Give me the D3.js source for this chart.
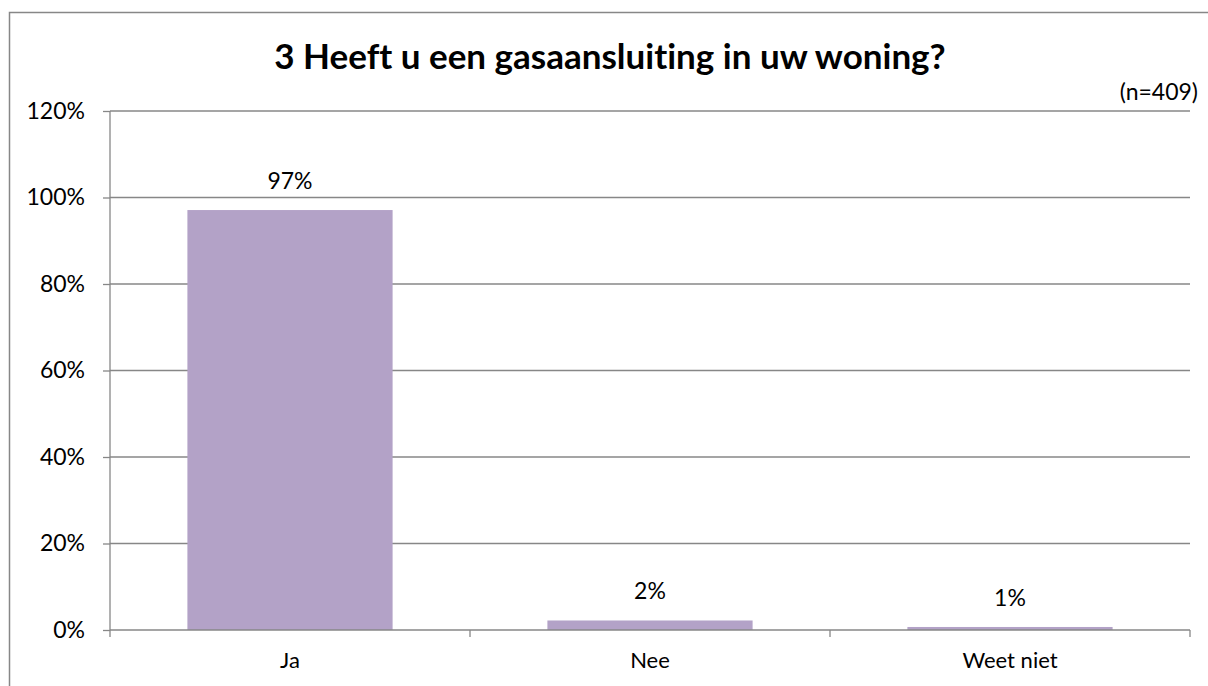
<!DOCTYPE html>
<html>
<head>
<meta charset="utf-8">
<script src="https://cdn.jsdelivr.net/npm/d3@7"></script>
<style>
    body { margin: 0; background: white; }
    svg { display: block; font-family: Lato, "Open Sans", sans-serif; font-variant-ligatures: none; }
</style>
</head>
<body>
<div id="chart"></div>
<script>
    // values
    var categories = ["Ja", "Nee", "Weet niet"];
    var values = [97.1, 2.2, 0.7];
    var yTicks = [0, 20, 40, 60, 80, 100, 120];

    var width = 1208, height = 686;
    var margin = { top: 111, right: 18, bottom: 56, left: 110 };

    var svg = d3.select("#chart").append("svg")
        .attr("width", width)
        .attr("height", height);

    // chart frame, only top and left edge fall inside the window
    svg.append("rect")
        .attr("x", 9.5).attr("y", 12.5)
        .attr("width", 1400).attr("height", 900)
        .attr("fill", "none")
        .attr("stroke", "#878787")
        .attr("stroke-width", 1.5);

    var x = d3.scaleBand()
        .domain(categories)
        .range([margin.left, width - margin.right])
        .paddingInner(0.43)
        .paddingOuter(0.215);

    var y = d3.scaleLinear()
        .domain([0, 120])
        .range([height - margin.bottom, margin.top]);

    // gridlines
    svg.append("g").selectAll("line").data(yTicks.slice(1)).enter().append("line")
        .attr("x1", margin.left).attr("x2", width - margin.right)
        .attr("y1", function (d) { return y(d); })
        .attr("y2", function (d) { return y(d); })
        .attr("stroke", "#878787")
        .attr("stroke-width", 1.3);

    // y axis
    var yAxis = svg.append("g")
        .attr("transform", "translate(" + margin.left + ",0)")
        .call(d3.axisLeft(y).tickValues(yTicks).tickSize(7).tickPadding(18)
            .tickFormat(function (d) { return d + "%"; }));
    yAxis.selectAll("path, line").attr("stroke", "#878787").attr("stroke-width", 1.3);
    yAxis.select(".domain").attr("d", "M0," + y(0) + "V" + y(120));
    yAxis.selectAll("text").attr("font-size", 23).attr("fill", "#000").attr("font-family", "Lato");

    // bars
    svg.append("g").selectAll("rect").data(values).enter().append("rect")
        .attr("x", function (d, i) { return x(categories[i]); })
        .attr("width", x.bandwidth())
        .attr("y", function (d) { return y(d); })
        .attr("height", function (d) { return y(0) - y(d); })
        .attr("fill", "#b3a2c7");

    // x axis with ticks between categories
    var xAxis = svg.append("g");
    xAxis.append("line")
        .attr("x1", margin.left).attr("x2", width - margin.right)
        .attr("y1", y(0)).attr("y2", y(0))
        .attr("stroke", "#878787").attr("stroke-width", 1.3);
    var bounds = d3.range(categories.length + 1).map(function (i) { return margin.left + i * (width - margin.left - margin.right) / categories.length; });
    xAxis.selectAll(".tk").data(bounds).enter().append("line")
        .attr("x1", function (d) { return d; }).attr("x2", function (d) { return d; })
        .attr("y1", y(0)).attr("y2", y(0) + 7)
        .attr("stroke", "#878787").attr("stroke-width", 1.3);
    xAxis.selectAll("text").data(categories).enter().append("text")
        .attr("x", function (d) { return x(d) + x.bandwidth() / 2; })
        .attr("y", y(0) + 38)
        .attr("text-anchor", "middle")
        .attr("font-size", 22)
        .text(function (d) { return d; });

    // data labels
    svg.append("g").selectAll("text").data(values).enter().append("text")
        .attr("x", function (d, i) { return x(categories[i]) + x.bandwidth() / 2; })
        .attr("y", function (d) { return y(d) - 21; })
        .attr("text-anchor", "middle")
        .attr("font-size", 23)
        .text(function (d) { return Math.round(d) + "%"; });

    svg.append("text")
        .attr("x", 610).attr("y", 69)
        .attr("text-anchor", "middle")
        .attr("font-size", 35)
        .attr("font-weight", "bold")
        .text("3 Heeft u een gasaansluiting in uw woning?");

    svg.append("text")
        .attr("x", 1198).attr("y", 100)
        .attr("text-anchor", "end")
        .attr("font-size", 23)
        .text("(n=409)");
</script>
</body>
</html>
